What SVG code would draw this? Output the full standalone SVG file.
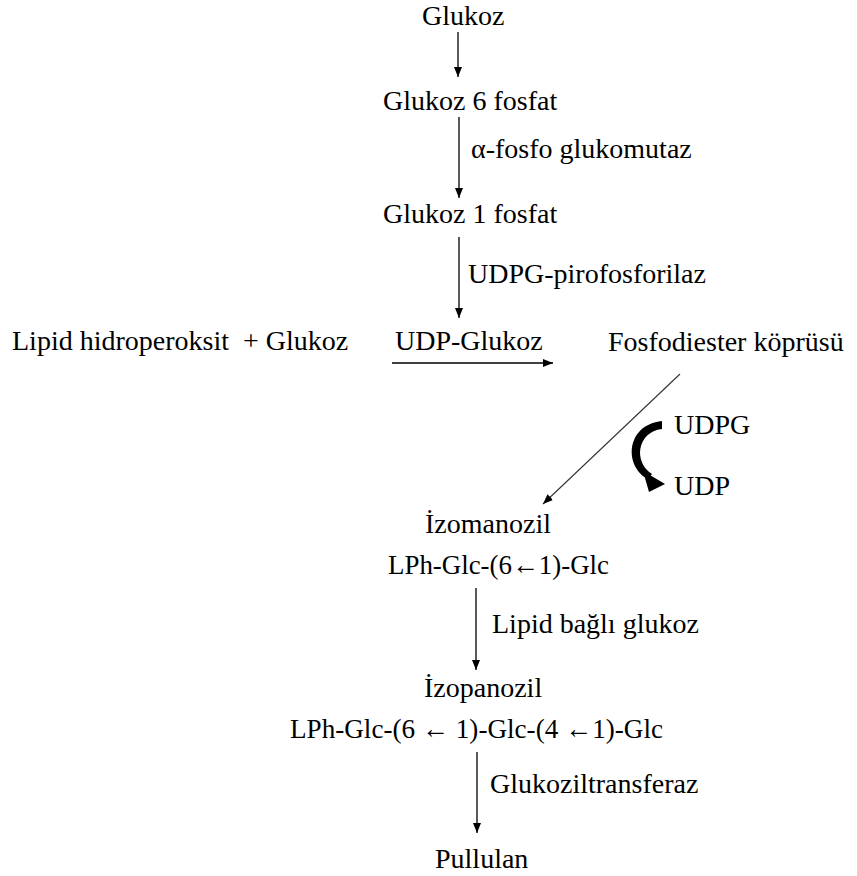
<svg xmlns="http://www.w3.org/2000/svg" width="857" height="876" viewBox="0 0 857 876">
<style>
text{font-family:"Liberation Serif","Times New Roman",serif;font-size:28px;fill:#000}
.ln{stroke:#000;stroke-width:1.3;fill:none}
.dg{stroke:#333;stroke-width:1.1;fill:none}
</style>
<defs>
<marker id="ah" markerWidth="10" markerHeight="10" viewBox="0 0 10 10" refX="10" refY="5" orient="auto" markerUnits="userSpaceOnUse">
<path d="M0,1 L10,5 L0,9 Z" fill="#000"/>
</marker>
</defs>
<rect width="857" height="876" fill="#fff"/>
<g id="connectors">
<line class="ln" x1="458" y1="32" x2="458" y2="77" marker-end="url(#ah)"/>
<line class="ln" x1="459" y1="117" x2="459" y2="198" marker-end="url(#ah)"/>
<line class="ln" x1="459" y1="237" x2="459" y2="318" marker-end="url(#ah)"/>
<line class="ln" x1="392" y1="363" x2="553" y2="363" marker-end="url(#ah)"/>
<line class="dg" x1="680" y1="374" x2="543" y2="504" marker-end="url(#ah)"/>
<line class="ln" x1="476" y1="588" x2="476" y2="670" marker-end="url(#ah)"/>
<line class="ln" x1="477" y1="752" x2="477" y2="833" marker-end="url(#ah)"/>
<path d="M662,421 L662,429 C637,432 633,462 652,474 L648,479 C624,467 625,425 662,421 Z" fill="#000"/>
<path d="M643,471 L665,484 L649,492 Z" fill="#000"/>
<text x="471" y="158">α-fosfo glukomutaz</text>
<text x="468" y="283">UDPG-pirofosforilaz</text>
<text x="492" y="633">Lipid bağlı glukoz</text>
<text x="490" y="793">Glukoziltransferaz</text>
</g>
<g id="glukoz"><text x="422" y="25">Glukoz</text></g>
<g id="glukoz6fosfat"><text x="383" y="110">Glukoz 6 fosfat</text></g>
<g id="glukoz1fosfat"><text x="383" y="223">Glukoz 1 fosfat</text></g>
<g id="lipid"><text x="12" y="350" xml:space="preserve">Lipid hidroperoksit  + Glukoz</text></g>
<g id="udpglukoz"><text x="395" y="350">UDP-Glukoz</text></g>
<g id="fosfodiester"><text x="608" y="351">Fosfodiester köprüsü</text></g>
<g id="udpg"><text x="674" y="434">UDPG</text></g>
<g id="udp"><text x="674" y="495">UDP</text></g>
<g id="izomanozil">
<text x="425" y="533">İzomanozil</text>
<text x="388" y="574" textLength="221" lengthAdjust="spacingAndGlyphs">LPh-Glc-(6←1)-Glc</text>
</g>
<g id="izopanozil">
<text x="424" y="697">İzopanozil</text>
<text x="290" y="738" xml:space="preserve" textLength="373" lengthAdjust="spacingAndGlyphs">LPh-Glc-(6 ← 1)-Glc-(4 ←1)-Glc</text>
</g>
<g id="pullulan"><text x="435" y="868">Pullulan</text></g>
</svg>
